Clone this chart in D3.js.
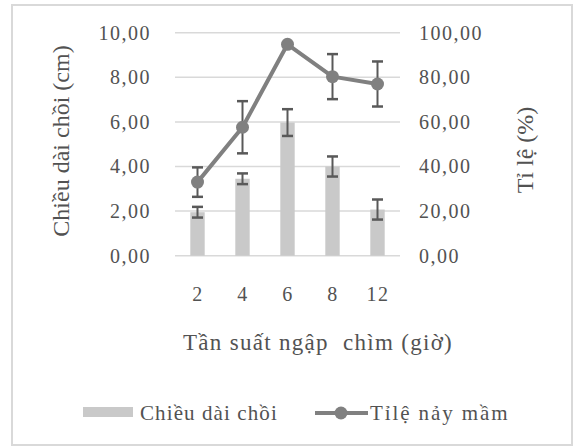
<!DOCTYPE html>
<html>
<head>
<meta charset="utf-8">
<script src="https://cdn.jsdelivr.net/npm/d3@7"></script>
<style>
  body { margin: 0; background: #fff; }
</style>
</head>
<body>
<div id="chart"></div>
<script>
// data
var categories = ["2", "4", "6", "8", "12"];
var shootLength = [1.95, 3.45, 5.97, 4.0, 2.07];
var shootLengthErr = [0.24, 0.24, 0.6, 0.45, 0.45];
var germRate = [33.0, 57.6, 94.8, 80.3, 77.0];
var germRateErr = [6.6, 11.7, 0, 10.1, 10.1];
var leftTicks = [0, 2, 4, 6, 8, 10];
var rightTicks = [0, 20, 40, 60, 80, 100];

var svgWidth = 574;
var svgHeight = 448;
var serif = '"Liberation Serif"';
var textColor = "#525252";

var plot = { left: 175, right: 400, top: 32.7, bottom: 255.7 };

var svg = d3.select("#chart")
  .append("svg")
  .attr("width", svgWidth)
  .attr("height", svgHeight);

// chart border
svg.append("rect")
  .attr("x", 12)
  .attr("y", 5)
  .attr("width", 560)
  .attr("height", 440)
  .attr("fill", "#fff")
  .attr("stroke", "#d9d9d9")
  .attr("stroke-width", 2);

var fmt = function(v) { return d3.format(".2f")(v).replace(".", ","); };

function styleText(sel, size, spacing) {
  sel.style("font-family", serif)
    .style("font-size", size + "px")
    .style("letter-spacing", spacing + "px")
    .style("fill", textColor);
}

var x = d3.scaleBand()
  .domain(categories)
  .range([plot.left, plot.right])
  .paddingInner(0.68)
  .paddingOuter(0.34);

var xc = d3.scalePoint()
  .domain(categories)
  .range([plot.left, plot.right])
  .padding(0.5);

var yLeft = d3.scaleLinear().domain([0, 10]).range([plot.bottom, plot.top]);
var yRight = d3.scaleLinear().domain([0, 100]).range([plot.bottom, plot.top]);

// gridlines
svg.append("g")
  .selectAll("line")
  .data(leftTicks)
  .enter()
  .append("line")
  .attr("x1", plot.left)
  .attr("x2", plot.right)
  .attr("y1", d => yLeft(d))
  .attr("y2", d => yLeft(d))
  .attr("stroke", "#d9d9d9")
  .attr("stroke-width", 1.5);

// left axis
var leftAxis = d3.axisLeft(yLeft).tickValues(leftTicks).tickFormat(fmt).tickSize(0).tickPadding(24);
var gLeft = svg.append("g")
  .attr("transform", `translate(${plot.left}, 0)`)
  .call(leftAxis)
  .attr("font-family", null);
gLeft.select(".domain").remove();
styleText(gLeft.selectAll("text"), 20, 1.5);

// right axis
var rightAxis = d3.axisRight(yRight).tickValues(rightTicks).tickFormat(fmt).tickSize(0).tickPadding(19);
var gRight = svg.append("g")
  .attr("transform", `translate(${plot.right}, 0)`)
  .call(rightAxis)
  .attr("font-family", null);
gRight.select(".domain").remove();
styleText(gRight.selectAll("text"), 20, 1.5);

// bottom axis
var bottomAxis = d3.axisBottom(xc).tickSize(0).tickPadding(31);
var gBottom = svg.append("g")
  .attr("transform", `translate(0, ${plot.bottom})`)
  .call(bottomAxis)
  .attr("font-family", null);
gBottom.select(".domain").remove();
styleText(gBottom.selectAll("text"), 20, 1.5);

// bars
svg.append("g")
  .selectAll("rect")
  .data(shootLength)
  .enter()
  .append("rect")
  .attr("x", (d, i) => x(categories[i]))
  .attr("y", d => yLeft(d))
  .attr("width", x.bandwidth())
  .attr("height", d => yLeft(0) - yLeft(d))
  .attr("fill", "#c9c9c9");

// error bars
function errorBars(values, errs, scale) {
  var rows = values.map((v, i) => ({ cat: categories[i], v: v, e: errs[i] }))
    .filter(d => d.e > 0);
  var eb = svg.append("g")
    .selectAll("g")
    .data(rows)
    .enter()
    .append("g");
  eb.append("line")
    .attr("x1", d => xc(d.cat))
    .attr("x2", d => xc(d.cat))
    .attr("y1", d => scale(d.v - d.e))
    .attr("y2", d => scale(d.v + d.e))
    .attr("stroke", "#595959")
    .attr("stroke-width", 2);
  [-1, 1].forEach(function(s) {
    eb.append("line")
      .attr("x1", d => xc(d.cat) - 5.5)
      .attr("x2", d => xc(d.cat) + 5.5)
      .attr("y1", d => scale(d.v + s * d.e))
      .attr("y2", d => scale(d.v + s * d.e))
      .attr("stroke", "#595959")
      .attr("stroke-width", 2.5);
  });
}

errorBars(shootLength, shootLengthErr, yLeft);

// line
var line = d3.line()
  .x((d, i) => xc(categories[i]))
  .y(d => yRight(d));

svg.append("path")
  .datum(germRate)
  .attr("d", line)
  .attr("fill", "none")
  .attr("stroke", "#808080")
  .attr("stroke-width", 4)
  .attr("stroke-linejoin", "round");

errorBars(germRate, germRateErr, yRight);

svg.append("g")
  .selectAll("circle")
  .data(germRate)
  .enter()
  .append("circle")
  .attr("cx", (d, i) => xc(categories[i]))
  .attr("cy", d => yRight(d))
  .attr("r", 6.5)
  .attr("fill", "#808080");

// axis titles
svg.append("text")
  .attr("transform", "translate(69, 141) rotate(-90)")
  .attr("text-anchor", "middle")
  .text("Chiều dài chồi (cm)")
  .call(styleText, 24, 0);

svg.append("text")
  .attr("transform", "translate(533, 150) rotate(-90)")
  .attr("text-anchor", "middle")
  .text("Tỉ lệ (%)")
  .call(styleText, 24, 0);

svg.append("text")
  .attr("x", 318)
  .attr("y", 350)
  .attr("text-anchor", "middle")
  .attr("xml:space", "preserve")
  .text("Tần suất ngập  chìm (giờ)")
  .call(styleText, 23, 1.3);

// legend
var legend = svg.append("g");
legend.append("rect")
  .attr("x", 83)
  .attr("y", 407)
  .attr("width", 50)
  .attr("height", 10)
  .attr("fill", "#c9c9c9");
legend.append("text")
  .attr("x", 140)
  .attr("y", 420)
  .text("Chiều dài chồi")
  .call(styleText, 21, 1.1);

legend.append("line")
  .attr("x1", 315)
  .attr("x2", 368)
  .attr("y1", 413)
  .attr("y2", 413)
  .attr("stroke", "#808080")
  .attr("stroke-width", 4);
legend.append("circle")
  .attr("cx", 341)
  .attr("cy", 413)
  .attr("r", 6.5)
  .attr("fill", "#808080");
legend.append("text")
  .attr("x", 370)
  .attr("y", 420)
  .text("Tỉlệ nảy mầm")
  .call(styleText, 21, 1.9);
</script>
</body>
</html>
